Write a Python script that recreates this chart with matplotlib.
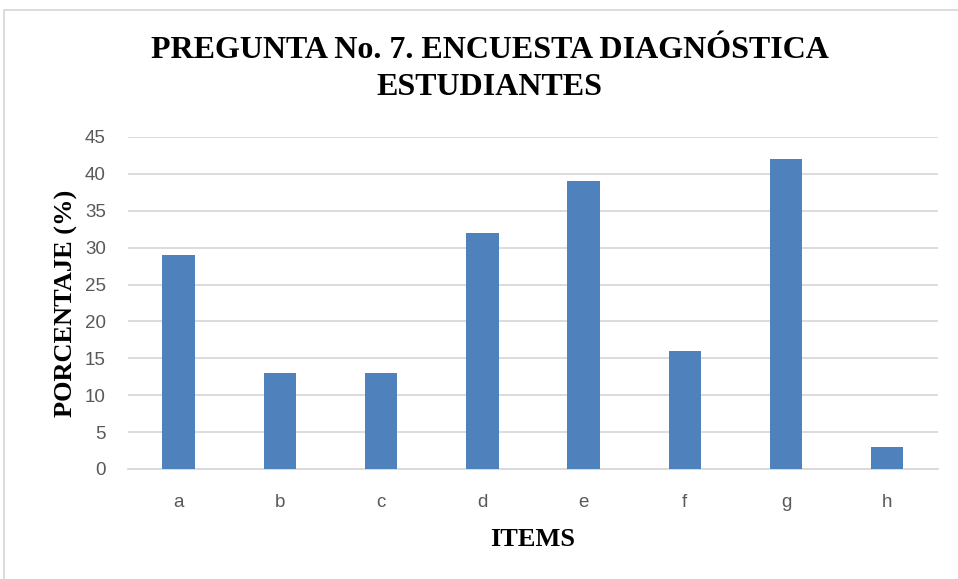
import matplotlib.pyplot as plt
from matplotlib.patches import Rectangle

# datos
items = ['a', 'b', 'c', 'd', 'e', 'f', 'g', 'h']
porcentaje = [29, 13, 13, 32, 39, 16, 42, 3]
yticks = [0, 5, 10, 15, 20, 25, 30, 35, 40, 45]

fig = plt.figure(figsize=(9.58, 5.79), dpi=100)
ax = fig.add_axes([0.1336, 0.19, 0.8454, 0.5734])

ax.bar(items, porcentaje, width=0.32, color='#4F81BD', zorder=3)

ax.set_xlim(-0.5, len(items) - 0.5)
ax.set_ylim(0, 45)
ax.set_yticks(yticks)
ax.yaxis.grid(True, color='#D9D9D9', linewidth=1.3, zorder=0)
for s in ['top', 'right', 'left']:
    ax.spines[s].set_visible(False)
ax.spines['bottom'].set_color('#D9D9D9')
ax.spines['bottom'].set_linewidth(1.3)
ax.tick_params(length=0, labelsize=13.5, labelcolor='#595959')
for lab in ax.get_xticklabels() + ax.get_yticklabels():
    lab.set_family('Liberation Sans')
ax.tick_params(axis='y', pad=16)
ax.tick_params(axis='x', pad=18)

ax.set_xlabel('ITEMS', family='Liberation Serif', weight='bold', fontsize=19, labelpad=12)
ax.set_ylabel('PORCENTAJE (%)', family='Liberation Serif', weight='bold', fontsize=19, labelpad=5)

fig.text(0.511, 0.881, 'PREGUNTA No. 7. ENCUESTA DIAGNÓSTICA\nESTUDIANTES',
         ha='center', va='center', family='Liberation Serif', weight='bold',
         fontsize=23, linespacing=1.35)

# marco exterior
fig.patches.append(Rectangle((4 / 958, -0.05), 1.2, 1 - 10 / 579 + 0.05,
                             transform=fig.transFigure, fill=False,
                             edgecolor='#D9D9D9', linewidth=1.3))

fig.savefig('out.png', dpi=100)
